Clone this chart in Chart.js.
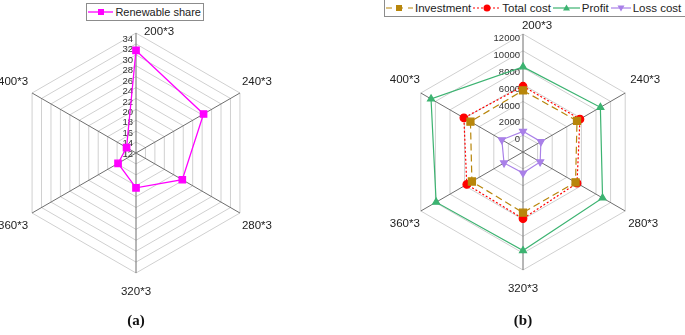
<!DOCTYPE html>
<html>
<head>
<meta charset="utf-8">
<script src="https://cdn.jsdelivr.net/npm/chart.js@4.4.1/dist/chart.umd.min.js"></script>
<style>
  body { margin: 0; background: #fff; width: 685px; height: 335px; position: relative; overflow: hidden;
         font-family: "Liberation Sans", Arial, sans-serif; }
  canvas { position: absolute; left: 0; top: 0; }
  .legend { position: absolute; border: 1px solid #8c8c8c; background: #fff; font-size: 11px; color: #222;
            display: flex; align-items: center; white-space: nowrap; box-sizing: border-box; }
  .legend svg { display: block; margin-right: 2px; }
  .legend span { margin-right: 2px; }
  .cap { position: absolute; top: 312px; font: bold 15px "Liberation Serif", "Times New Roman", serif;
         transform: translateX(-50%); color: #111; }
</style>
</head>
<body>
<canvas id="chartA" width="685" height="335"></canvas>
<canvas id="chartB" width="685" height="335"></canvas>

<div class="legend" style="left:86px;top:3px;width:118px;height:18px;padding-left:1px;">
  <svg width="26" height="10"><line x1="0" y1="5" x2="26" y2="5" stroke="#ff00ff" stroke-width="1.3"/><rect x="10" y="2" width="6" height="6" fill="#ff00ff"/></svg>
  <span>Renewable share</span>
</div>

<div class="legend" style="left:384px;top:-1px;width:330px;height:18px;padding-left:1px;font-size:11.5px;">
  <svg width="27" height="10"><line x1="0" y1="5" x2="27" y2="5" stroke="#b8860b" stroke-width="1.2" stroke-dasharray="6,5"/><rect x="10" y="2" width="6" height="6" fill="#b8860b"/></svg>
  <span>Investment</span>
  <svg width="27" height="10"><line x1="0" y1="5" x2="27" y2="5" stroke="#ff0000" stroke-width="1.2" stroke-dasharray="2,2"/><circle cx="14" cy="5" r="3.5" fill="#ff0000"/></svg>
  <span>Total cost</span>
  <svg width="27" height="10"><line x1="0" y1="5" x2="27" y2="5" stroke="#3cb371" stroke-width="1.2"/><path d="M13.5 1.5 L17 7.5 L10 7.5 Z" fill="#3cb371"/></svg>
  <span>Profit</span>
  <svg width="20" height="10"><line x1="0" y1="5" x2="20" y2="5" stroke="#a980e8" stroke-width="1.2"/><path d="M10 8.5 L13.5 2.5 L6.5 2.5 Z" fill="#a980e8"/></svg>
  <span>Loss cost</span>
</div>

<div class="cap" style="left:136px;">(a)</div>
<div class="cap" style="left:523px;">(b)</div>

<script>
const LABELS = ['200*3', '240*3', '280*3', '320*3', '360*3', '400*3'];

// (a) renewable share, %
const RENEWABLE_SHARE = [30.8, 26.3, 21.8, 18.4, 15.8, 14.0];
const SHARE_TICKS = [12, 14, 16, 18, 20, 22, 24, 26, 28, 30, 32, 34];

// (b) costs
const INVESTMENT = [5300, 5400, 5200, 5200, 5000, 5200];
const TOTAL_COST = [5800, 5800, 5400, 5900, 5700, 6100];
const PROFIT = [8100, 8600, 8900, 9700, 9900, 10600];
const LOSS_COST = [450, 450, 350, 500, 600, 900];
const COST_TICKS = [0, 2000, 4000, 6000, 8000, 10000, 12000];

const FONT = '"Liberation Sans", Arial, sans-serif';

// tick labels left of the top spoke + category labels near the vertices
function hexLabels(ticks, tickShrink, tickDy, labelOffsets) {
  return {
    id: 'hexLabels',
    beforeDatasetsDraw: function (chart) {
      const r = chart.scales.r;
      const ctx = chart.ctx;
      ctx.save();
      ctx.font = '9.5px ' + FONT;
      ctx.fillStyle = '#333';
      ctx.textAlign = 'right';
      ctx.textBaseline = 'middle';
      for (let i = 0; i < ticks.length; i++) {
        const d = r.getDistanceFromCenterForValue(ticks[i]);
        ctx.fillText(String(ticks[i]), r.xCenter - 3, r.yCenter - d * tickShrink + tickDy);
      }
      ctx.font = '11.5px ' + FONT;
      ctx.fillStyle = '#222';
      ctx.textAlign = 'center';
      for (let i = 0; i < LABELS.length; i++) {
        const p = r.getPointPosition(i, r.drawingArea);
        ctx.fillText(LABELS[i], p.x + labelOffsets[i][0], p.y + labelOffsets[i][1]);
      }
      ctx.restore();
    }
  };
}

function radialScale(min, max, step) {
  return {
    min: min, max: max,
    ticks: { display: false, stepSize: step },
    grid: { color: '#d0d0d0', lineWidth: 1 },
    angleLines: { color: '#6e6e6e', lineWidth: 1 },
    pointLabels: { display: false },
  };
}

new Chart(document.getElementById('chartA'), {
  type: 'radar',
  data: {
    labels: LABELS,
    datasets: [{
      label: 'Renewable share',
      data: RENEWABLE_SHARE,
      borderColor: '#ff00ff',
      backgroundColor: '#ff00ff',
      borderWidth: 1.3,
      pointStyle: 'rect',
      pointRadius: 4.5,
      fill: false,
    }]
  },
  options: {
    responsive: false,
    animation: false,
    layout: { padding: { left: 16, right: 429, top: 33, bottom: 62 } },
    plugins: { legend: { display: false }, tooltip: { enabled: false } },
    scales: { r: radialScale(12, 34, 2) },
  },
  plugins: [hexLabels(SHARE_TICKS, 0.955, 1,
    [[23, -1], [17, -11], [17, 13], [0, 19], [-19, 13], [-19, -11]])],
});

new Chart(document.getElementById('chartB'), {
  type: 'radar',
  data: {
    labels: LABELS,
    datasets: [
      { label: 'Investment', data: INVESTMENT, borderColor: '#b8860b', backgroundColor: '#b8860b',
        borderWidth: 1.2, borderDash: [7, 4], pointStyle: 'rect', pointRadius: 5, fill: false },
      { label: 'Total cost', data: TOTAL_COST, borderColor: '#ff0000', backgroundColor: '#ff0000',
        borderWidth: 1.2, borderDash: [2, 2], pointStyle: 'circle', pointRadius: 3.8, fill: false },
      { label: 'Profit', data: PROFIT, borderColor: '#3cb371', backgroundColor: '#3cb371',
        borderWidth: 1.2, pointStyle: 'triangle', pointRadius: 4, fill: false },
      { label: 'Loss cost', data: LOSS_COST, borderColor: '#a980e8', backgroundColor: '#a980e8',
        borderWidth: 1.2, pointStyle: 'triangle', pointRotation: 180, pointRadius: 4, fill: false },
    ]
  },
  options: {
    responsive: false,
    animation: false,
    layout: { padding: { left: 405, right: 44, top: 34, bottom: 65 } },
    plugins: { legend: { display: false }, tooltip: { enabled: false } },
    scales: { r: radialScale(-2000, 12000, 2000) },
  },
  plugins: [hexLabels(COST_TICKS, 1, 4.5,
    [[14, -8], [20, -13], [18, 13], [0, 19], [-16, 13], [-16, -13]])],
});
</script>
</body>
</html>
